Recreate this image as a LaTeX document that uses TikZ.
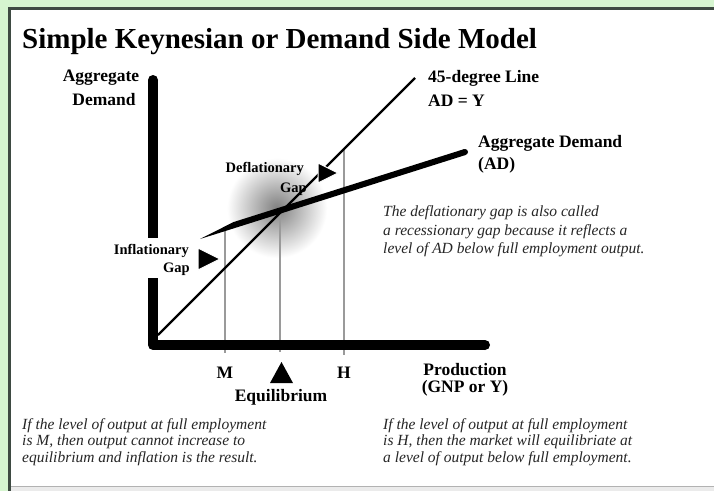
\documentclass[tikz,border=0pt]{standalone}
\usepackage{fontspec}
\setmainfont{Liberation Serif}
\definecolor{bggreen}{HTML}{D6F5D0}
\definecolor{frame}{HTML}{3E4A42}
\definecolor{guide}{HTML}{9A9A9A}
\definecolor{notegray}{HTML}{262626}
\begin{document}
\begin{tikzpicture}[x=1pt,y=-1pt,
  titlefont/.style={font=\bfseries\fontsize{29}{32}\selectfont, inner sep=0pt},
  lab/.style={font=\bfseries\fontsize{17.5}{20}\selectfont, inner sep=0pt},
  smalllab/.style={font=\bfseries\fontsize{14.5}{17}\selectfont, inner sep=0pt},
  note/.style={font=\itshape\fontsize{15.5}{18}\selectfont, inner sep=0pt, text=notegray},
  axisline/.style={line width=10pt, black},
  guideline/.style={line width=1.6pt, guide},
  marker/.style={fill=black, draw=white, line width=1pt}
]
% background and frame
\fill[bggreen] (0,0) rectangle (714,491);
\useasboundingbox (0,0) rectangle (714,491);
\fill[white] (8,7) rectangle (714,486);
\fill[white!92!black] (11,486) rectangle (714,491);
\draw[gray!60, line width=1.5pt] (11,486.5) -- (714,486.5);
\draw[frame, line width=3pt] (9.5,7) -- (9.5,491);
\draw[frame, line width=3pt] (8,8.5) -- (714,8.5);

% named points
\coordinate (origin) at (158,335);
\coordinate (top45) at (415,78);
\coordinate (adL) at (200,239);
\coordinate (adR) at (465,152);
\coordinate (eq) at (280,213);

% shadow at equilibrium
\shade[inner color=black!50, outer color=white] (277,208) circle (50pt);

% guide lines
\coordinate (mTop) at (225,231);
\coordinate (mBot) at (225,353);
\coordinate (eBot) at (280,352);
\coordinate (hTop) at (344,149);
\coordinate (hBot) at (344,355);
\draw[guideline] (mTop) -- (mBot);
\draw[guideline] (eq) -- (eBot);
\draw[guideline] (hTop) -- (hBot);

% 45-degree line
\draw[line width=2.4pt, black] (origin) -- (top45);

% aggregate demand line (tapered at the left)
\fill[black] (adL) -- (233.4,222.1) -- (464.1,149.1) -- (465.9,154.9) -- (235.2,227.9) -- cycle;
\fill[black] (adR) circle (3pt);

% axes
\draw[axisline, line cap=butt] (153,80) -- (153,238);
\fill[black] (153,80) circle (5pt);
\draw[axisline, line cap=butt, line join=round] (153,278) -- (153,345) -- (485,345);
\fill[black] (485,345) circle (5pt);

% triangles
\draw[marker] (318,163) -- (318,183) -- (338,173) -- cycle;
\draw[marker] (198,248) -- (198,270) -- (220,259) -- cycle;
\fill[black] (270,383) -- (293,383) -- (281.5,362) -- cycle;

% texts
\node[titlefont, anchor=base west] (title) at (22,48) {Simple Keynesian or Demand Side Model};
\node[lab, anchor=base] (ylab1) at (101,81) {Aggregate};
\node[lab, anchor=base] (ylab2) at (104,105) {Demand};
\node[lab, anchor=base west] (l45a) at (428,82) {45-degree Line};
\node[lab, anchor=base west] (l45b) at (428,106) {AD = Y};
\node[lab, anchor=base west] (lada) at (478,147) {Aggregate Demand};
\node[lab, anchor=base west] (ladb) at (478,169) {(AD)};
\node[note, anchor=base west] (n1) at (383,216) {The deflationary gap is also called};
\node[note, anchor=base west] (n2) at (383,235) {a recessionary gap because it reflects a};
\node[note, anchor=base west] (n3) at (383,253) {level of AD below full employment output.};
\node[smalllab, anchor=base east] (dg1) at (304,172) {Deflationary};
\node[smalllab, anchor=base east] (dg2) at (307,192) {Gap};
\node[smalllab, anchor=base east] (ig1) at (189,254) {Inflationary};
\node[smalllab, anchor=base east] (ig2) at (190,272) {Gap};
\node[lab, anchor=base] (mlab) at (225,378) {M};
\node[lab, anchor=base] (hlab) at (344,378) {H};
\node[lab, anchor=base] (eqlab) at (281,401) {Equilibrium};
\node[lab, anchor=base] (pr1) at (465,375) {Production};
\node[lab, anchor=base] (pr2) at (465,392) {(GNP or Y)};
\node[note, anchor=base west] (bl1) at (22,429) {If the level of output at full employment};
\node[note, anchor=base west] (bl2) at (22,445) {is M, then output cannot increase to};
\node[note, anchor=base west] (bl3) at (22,462) {equilibrium and inflation is the result.};
\node[note, anchor=base west] (br1) at (383,429) {If the level of output at full employment};
\node[note, anchor=base west] (br2) at (383,445) {is H, then the market will equilibriate at};
\node[note, anchor=base west] (br3) at (383,462) {a level of output below full employment.};
\end{tikzpicture}
\end{document}
